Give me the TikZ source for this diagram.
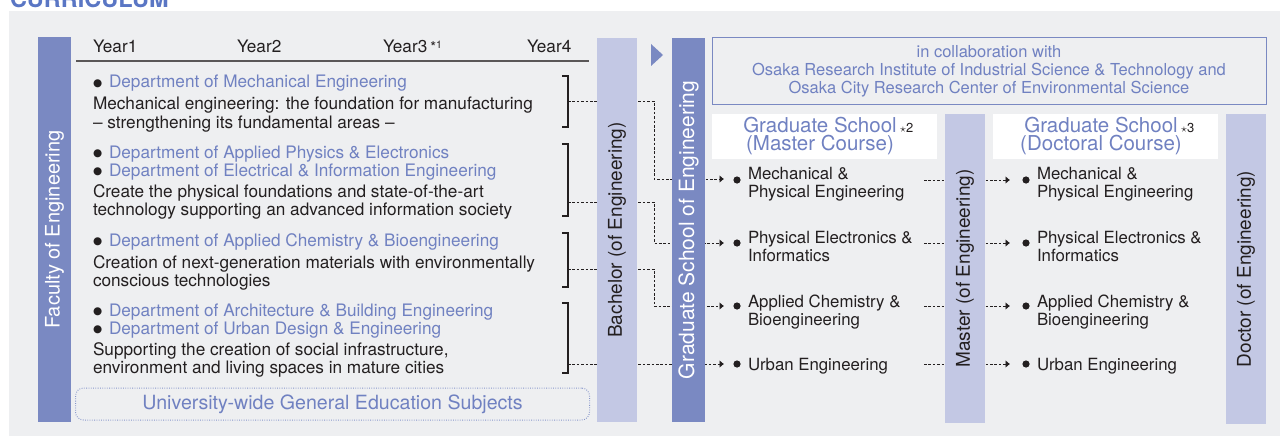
\documentclass[tikz,border=0pt]{standalone}
\usepackage{fontspec}
\setmainfont{TeX Gyre Heros}
\newfontfamily\symfont{DejaVu Sans}
\usetikzlibrary{arrows.meta}
\definecolor{panel}{RGB}{238,239,241}
\definecolor{darkbar}{RGB}{122,137,194}
\definecolor{lightbar}{RGB}{195,200,228}
\definecolor{bluetext}{RGB}{112,129,193}
\definecolor{ink}{RGB}{35,31,32}
\definecolor{titleblue}{RGB}{90,118,196}
\pgfdeclarelayer{back}
\pgfdeclarelayer{wires}
\pgfsetlayers{back,wires,main}
\newcommand\mybul{{\symfont\fontsize{10.5}{10.5}\selectfont\raisebox{1.2pt}{●}}}
\newcommand\deptbul{\makebox[16pt][l]{\color{ink}\mybul}}
\tikzset{
  plain/.style={inner sep=0pt, outer sep=0pt},
  txt/.style={plain, anchor=base west, font=\fontsize{17.2}{18}\selectfont, text=ink},
  itm/.style={plain, anchor=base west, font=\fontsize{16.8}{18}\selectfont, text=ink},
  dept/.style={txt, text=bluetext},
  darkcol/.style={plain, fill=darkbar, rotate=90, text=white},
  lightcol/.style={plain, fill=lightbar, rotate=90, text=ink},
  conn/.style={draw=ink, line width=0.9pt, dash pattern=on 2.6pt off 1.8pt},
  tip/.style={-{Latex[length=4.5pt,width=8pt]}},
  brk/.style={draw=ink, line width=1.1pt},
  dotmark/.style={circle, fill=ink, inner sep=0pt, minimum size=7.2pt},
  whitebox/.style={plain, fill=white, minimum width=225pt, minimum height=45pt},
  gradtitle/.style={plain, align=center, text=bluetext, font=\fontsize{20.5}{18}\selectfont},
}
\begin{document}
\begin{tikzpicture}[x=1pt,y=-1pt]
\useasboundingbox (0,0) rectangle (1280,436);
\clip (0,0) rectangle (1280,436);
\begin{pgfonlayer}{back}
  \fill[panel] (9,11) rectangle (1280,436);
\end{pgfonlayer}

% title (cut off at the top, as in the reference)
\node[plain, anchor=base west, font=\bfseries\fontsize{23.5}{23.5}\selectfont, text=titleblue] (title) at (10,8) {CURRICULUM};

% vertical bars
\node[darkcol, minimum width=385pt, minimum height=33pt, font=\fontsize{20}{20}\selectfont] (fac) at (54.5,229.5) {Faculty of Engineering};
\node[lightcol, minimum width=384pt, minimum height=40pt, font=\fontsize{19}{19}\selectfont] (bach) at (617,230) {Bachelor (of Engineering)};
\node[darkcol, minimum width=384pt, minimum height=33pt, font=\fontsize{21}{21}\selectfont] (grad) at (688.5,230) {Graduate School of Engineering};
\node[lightcol, minimum width=309pt, minimum height=40pt, font=\fontsize{19}{19}\selectfont] (mast) at (965,268.5) {Master (of Engineering)};
\node[lightcol, minimum width=310pt, minimum height=40pt, font=\fontsize{19}{19}\selectfont] (doct) at (1246,269) {Doctor (of Engineering)};

% triangle
\fill[darkbar] (651,44) -- (651,66) -- (663,55) -- cycle;

% year header
\node[txt] (y1) at (93,53) {Year1};
\node[txt] (y2) at (237,53) {Year2};
\node[txt] (y3) at (383,53) {Year3\hspace{3pt}\raisebox{0.5pt}{\fontsize{15}{15}\selectfont *}\raisebox{5pt}{\fontsize{10.5}{10.5}\selectfont 1}};
\node[txt] (y4) at (527,53) {Year4};
\draw[draw=ink!75, line width=1.2pt] (76,61) -- (589,61);

% departments
\node[dept] (d1a) at (93,88) {\deptbul Department of Mechanical Engineering};
\node[txt] (d1b) at (93,110) {Mechanical engineering: the foundation for manufacturing};
\node[txt] (d1c) at (93,128) {– strengthening its fundamental areas –};

\node[dept] (d2a) at (93,158) {\deptbul Department of Applied Physics \& Electronics};
\node[dept] (d2b) at (93,176) {\deptbul Department of Electrical \& Information Engineering};
\node[txt] (d2c) at (93,197) {Create the physical foundations and state-of-the-art};
\node[txt] (d2d) at (93,215) {technology supporting an advanced information society};

\node[dept] (d3a) at (93,246) {\deptbul Department of Applied Chemistry \& Bioengineering};
\node[txt] (d3b) at (93,268) {Creation of next-generation materials with environmentally};
\node[txt] (d3c) at (93,286) {conscious technologies};

\node[dept] (d4a) at (93,316) {\deptbul Department of Architecture \& Building Engineering};
\node[dept] (d4b) at (93,334) {\deptbul Department of Urban Design \& Engineering};
\node[txt] (d4c) at (93,355) {Supporting the creation of social infrastructure,};
\node[txt] (d4d) at (93,373) {environment and living spaces in mature cities};

% general education box
\node[plain, draw=bluetext!85, line width=1pt, dash pattern=on 0.8pt off 1.5pt, rounded corners=8pt,
      minimum width=514pt, minimum height=32pt, text=bluetext, font=\fontsize{19.6}{19.6}\selectfont] (gen) at (332.5,404) {University-wide General Education Subjects};

% brackets
\draw[brk] (562,76) -- (568,76) -- (568,127) -- (562,127);
\draw[brk] (562,144) -- (568,144) -- (568,216) -- (562,216);
\draw[brk] (562,233) -- (568,233) -- (568,287) -- (562,287);
\draw[brk] (562,303) -- (568,303) -- (568,373) -- (562,373);

% collaboration box
\node[plain, draw=darkbar, line width=1pt, minimum width=554pt, minimum height=66pt, align=center,
      text=bluetext, font=\fontsize{16.5}{18}\selectfont] (collab) at (989,71)
  {in collaboration with\\Osaka Research Institute of Industrial Science \& Technology and\\Osaka City Research Center of Environmental Science};

% graduate school headers
\node[whitebox] (mbox) at (824.5,136.5) {};
\node[gradtitle] (mtitle) at (820,136) {Graduate School\rlap{\,{\fontsize{13}{13}\selectfont\color{ink}$\star$2}}\\(Master Course)};
\node[whitebox] (dbox) at (1105.5,136.5) {};
\node[gradtitle] (dtitle) at (1101,136) {Graduate School\rlap{\,{\fontsize{13}{13}\selectfont\color{ink}$\star$3}}\\(Doctoral Course)};

% master course items
\node[dotmark] (mb1) at (737,180) {};
\node[itm] (m1a) at (748,179) {Mechanical \&};
\node[itm] (m1b) at (748,197) {Physical Engineering};
\node[dotmark] (mb2) at (737,243) {};
\node[itm] (m2a) at (748,243) {Physical Electronics \&};
\node[itm] (m2b) at (748,261) {Informatics};
\node[dotmark] (mb3) at (737,306) {};
\node[itm] (m3a) at (748,307) {Applied Chemistry \&};
\node[itm] (m3b) at (748,325) {Bioengineering};
\node[dotmark] (mb4) at (737,364) {};
\node[itm] (m4a) at (748,370) {Urban Engineering};

% doctoral course items
\node[dotmark] (db1) at (1026,180) {};
\node[itm] (e1a) at (1037,179) {Mechanical \&};
\node[itm] (e1b) at (1037,197) {Physical Engineering};
\node[dotmark] (db2) at (1026,243) {};
\node[itm] (e2a) at (1037,243) {Physical Electronics \&};
\node[itm] (e2b) at (1037,261) {Informatics};
\node[dotmark] (db3) at (1026,306) {};
\node[itm] (e3a) at (1037,307) {Applied Chemistry \&};
\node[itm] (e3b) at (1037,325) {Bioengineering};
\node[dotmark] (db4) at (1026,364) {};
\node[itm] (e4a) at (1037,370) {Urban Engineering};

% connector coordinates
\coordinate (b1) at (568,101);
\coordinate (b2) at (568,202);
\coordinate (b3) at (568,269);
\coordinate (b4) at (568,364);
\coordinate (j1) at (654,179);
\coordinate (j2) at (654,243);
\coordinate (j3) at (654,306);
\coordinate (t1) at (724,179);
\coordinate (t2) at (724,243);
\coordinate (t3) at (724,306);
\coordinate (t4) at (724,364);
\coordinate (s1) at (924,180);
\coordinate (s2) at (924,243);
\coordinate (s3) at (924,306);
\coordinate (s4) at (924,364);
\coordinate (u1) at (1010,180);
\coordinate (u2) at (1010,243);
\coordinate (u3) at (1010,306);
\coordinate (u4) at (1010,364);

\begin{pgfonlayer}{wires}
  \draw[conn, tip] (b1) -| (j1) -- (t1);
  \draw[conn, tip] (b2) -| (j2) -- (t2);
  \draw[conn, tip] (b3) -| (j3) -- (t3);
  \draw[conn, tip] (b4) -- (t4);
  \draw[conn, tip] (s1) -- (u1);
  \draw[conn, tip] (s2) -- (u2);
  \draw[conn, tip] (s3) -- (u3);
  \draw[conn, tip] (s4) -- (u4);
\end{pgfonlayer}
\end{tikzpicture}
\end{document}
